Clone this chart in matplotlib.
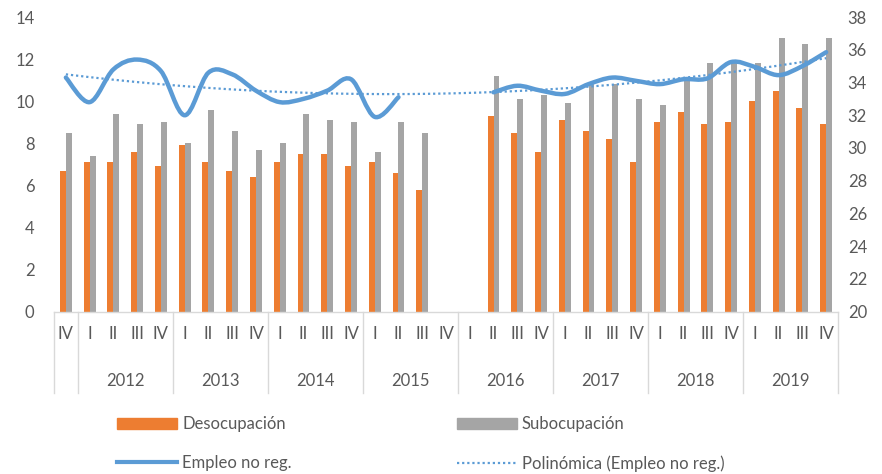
import matplotlib.pyplot as plt
import numpy as np
from matplotlib.path import Path
from matplotlib.patches import PathPatch, Patch
from matplotlib.lines import Line2D

quarters = ["IV"] + ["I", "II", "III", "IV"] * 8
years = ["2012", "2013", "2014", "2015", "2016", "2017", "2018", "2019"]

desocupacion = [6.7, 7.1, 7.1, 7.6, 6.9, 7.9, 7.1, 6.7, 6.4, 7.1, 7.5, 7.5, 6.9,
                7.1, 6.6, 5.8, np.nan, np.nan, 9.3, 8.5, 7.6, 9.1, 8.6, 8.2, 7.1,
                9.0, 9.5, 8.9, 9.0, 10.0, 10.5, 9.7, 8.9]
subocupacion = [8.5, 7.4, 9.4, 8.9, 9.0, 8.0, 9.6, 8.6, 7.7, 8.0, 9.4, 9.1, 9.0,
                7.6, 9.0, 8.5, np.nan, np.nan, 11.2, 10.1, 10.3, 9.9, 10.9, 10.8, 10.1,
                9.8, 11.0, 11.8, 11.8, 11.8, 13.0, 12.7, 13.0]
empleo_no_reg = [34.3, 32.8, 34.8, 35.4, 34.7, 32.0, 34.6, 34.5, 33.5, 32.8, 33.0,
                 33.5, 34.2, 31.9, 33.1, np.nan, np.nan, np.nan, 33.4, 33.8, 33.5,
                 33.3, 33.9, 34.3, 34.1, 33.9, 34.2, 34.25, 35.25, 34.95, 34.45,
                 35.0, 35.85]

ORANGE = "#ED7D31"
GRAY = "#A5A5A5"
BLUE = "#5B9BD5"
TXT = "#595959"
GRID = "#D9D9D9"

plt.rcParams['font.family'] = ['Lato', 'DejaVu Sans']
plt.rcParams['font.size'] = 12

W, H = 882, 474
fig = plt.figure(figsize=(W / 100, H / 100), dpi=100)
x0, x1, ytop, ybot = 54, 838, 17, 311.7
ax = fig.add_axes([x0 / W, (H - ybot) / H, (x1 - x0) / W, (ybot - ytop) / H])
ax2 = ax.twinx()

n = len(quarters)
x = np.arange(n)
bw = 0.25
ax.bar(x - bw / 2, desocupacion, bw, color=ORANGE, label="Desocupación")
ax.bar(x + bw / 2, subocupacion, bw, color=GRAY, label="Subocupación")


def smooth_path(xs, ys):
    # excel-like smoothed line: catmull-rom as cubic bezier
    pts = np.column_stack([xs, ys])
    verts = [pts[0]]
    codes = [Path.MOVETO]
    for i in range(len(pts) - 1):
        p0 = pts[max(i - 1, 0)]
        p1 = pts[i]
        p2 = pts[i + 1]
        p3 = pts[min(i + 2, len(pts) - 1)]
        verts += [p1 + (p2 - p0) / 6, p2 - (p3 - p1) / 6, p2]
        codes += [Path.CURVE4] * 3
    return Path(verts, codes)


emp = np.array(empleo_no_reg)
valid = ~np.isnan(emp)
# split into contiguous runs
start = None
for i in range(n + 1):
    ok = i < n and valid[i]
    if ok and start is None:
        start = i
    elif not ok and start is not None:
        seg = np.arange(start, i)
        ax2.add_patch(PathPatch(smooth_path(x[seg], emp[seg]), fill=False,
                                edgecolor=BLUE, lw=3.2, capstyle='round', zorder=4))
        start = None

# polynomial trendline
coef = np.polyfit(x[valid] + 1, emp[valid], 2)
xt = np.linspace(0, n - 1, 200)
ax2.plot(xt, np.polyval(coef, xt + 1), color=BLUE, lw=1.6, ls=(0, (1, 1.3)), zorder=3)

ax.set_xlim(-0.5, n - 0.5)
ax.set_ylim(0, 14)
ax.set_yticks(range(0, 15, 2))
ax2.set_ylim(20, 38)
ax2.set_yticks(range(20, 39, 2))
ax.set_xticks([])

for a in (ax, ax2):
    for s in ("top", "left", "right", "bottom"):
        a.spines[s].set_visible(False)
    a.tick_params(length=0, colors=TXT, labelsize=12)
ax.tick_params(axis='y', pad=14)
ax2.tick_params(axis='y', pad=7)

# category axis
trans = ax.get_xaxis_transform()
ax.plot([-0.5, n - 0.5], [0, 0], color=GRID, lw=1, transform=trans, clip_on=False)
ylow = -(393 - ybot) / (ybot - ytop)
yq = -(334 - ybot) / (ybot - ytop)
yy = -(381 - ybot) / (ybot - ytop)
seps = [-0.5, 0.5] + [0.5 + 4 * k for k in range(1, 9)]
for s in seps:
    ax.plot([s, s], [0, ylow], color=GRID, lw=1, transform=trans, clip_on=False)
for i, q in enumerate(quarters):
    ax.text(i, yq, q, transform=trans, ha='center', va='center', color=TXT, fontsize=12)
for k, yr in enumerate(years):
    ax.text(2.5 + 4 * k, yy, yr, transform=trans, ha='center', va='center',
            color=TXT, fontsize=12)

handles = [Patch(color=ORANGE), Line2D([], [], color=BLUE, lw=3),
           Patch(color=GRAY), Line2D([], [], color=BLUE, lw=1.6, ls=(0, (1, 1.3)))]
labels = ["Desocupación", "Empleo no reg.", "Subocupación", "Polinómica (Empleo no reg.)"]
fig.legend(handles, labels, ncol=2, loc='center left', bbox_to_anchor=(102 / W, 1 - 444 / H),
           frameon=False, handlelength=3.6, handletextpad=0.3, columnspacing=9.9,
           labelspacing=1.35, labelcolor=TXT, fontsize=12)

fig.savefig("out.png", dpi=100)
